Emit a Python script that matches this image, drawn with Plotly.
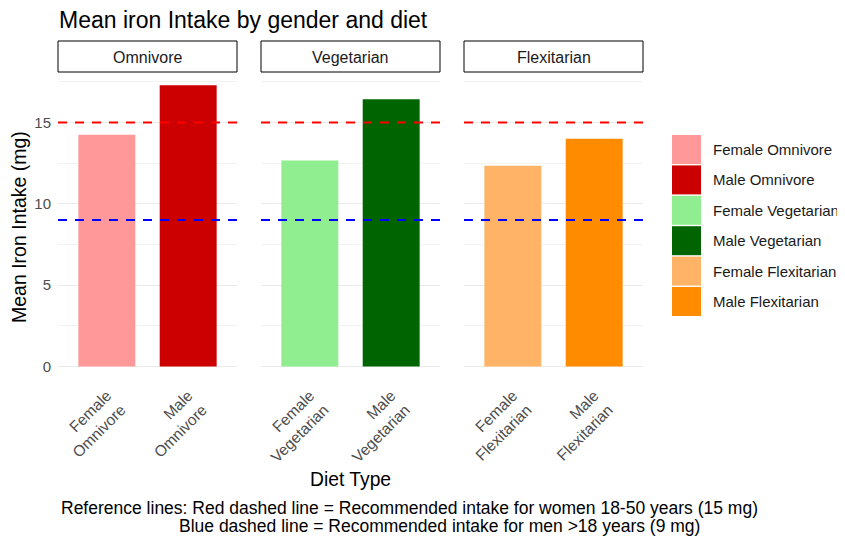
import plotly.graph_objects as go

# ---- data ----
diets = ["Omnivore", "Vegetarian", "Flexitarian"]
groups = ["Female Omnivore", "Male Omnivore", "Female Vegetarian",
          "Male Vegetarian", "Female Flexitarian", "Male Flexitarian"]
group_diet = ["Omnivore", "Omnivore", "Vegetarian", "Vegetarian", "Flexitarian", "Flexitarian"]
tick_labels = ["Female<br>Omnivore", "Male<br>Omnivore", "Female<br>Vegetarian",
               "Male<br>Vegetarian", "Female<br>Flexitarian", "Male<br>Flexitarian"]
mean_iron = [14.24, 17.29, 12.66, 16.43, 12.34, 14.0]
colors = ["#FF9999", "#CC0000", "#90EE90", "#006400", "#FFB366", "#FF8C00"]
y_ticks = [0, 5, 10, 15]
ref_women = 15
ref_men = 9
title_text = "Mean iron Intake by gender and diet"
x_title = "Diet Type"
y_title = "Mean Iron Intake (mg)"
caption_line1 = "Reference lines: Red dashed line = Recommended intake for women 18-50 years (15 mg)"
caption_line2 = "Blue dashed line = Recommended intake for men >18 years (9 mg)"

# ---- layout helpers (page pixels -> paper); page body has an 8px margin ----
PAGE_W, PAGE_H = 845, 537
OFF = 8
W, H = PAGE_W - OFF, PAGE_H - OFF
FONT = "Liberation Sans, Arial, sans-serif"


def px(x):
    return (x - OFF) / W


def py(y):
    return 1 - (y - OFF) / H


panel_px = [(58, 237), (261, 440), (464, 643)]
panel_top, panel_bot = 72, 380.6
y_range = [-0.865, 18.1]

fig = go.Figure()
layout = dict(
    width=W, height=H, autosize=False,
    margin=dict(l=0, r=0, t=0, b=0, pad=0, autoexpand=False),
    paper_bgcolor="white", plot_bgcolor="white",
    showlegend=False,
    font=dict(family=FONT, color="#1a1a1a"),
)

shapes = []
annotations = []

for i, diet in enumerate(diets):
    sfx = "" if i == 0 else str(i + 1)
    idx = [k for k, d in enumerate(group_diet) if d == diet]
    fig.add_trace(go.Bar(
        x=[groups[k] for k in idx],
        y=[mean_iron[k] for k in idx],
        marker=dict(color=[colors[k] for k in idx], line=dict(width=0)),
        width=0.7,
        xaxis="x" + sfx, yaxis="y" + sfx,
        name=diet,
    ))
    x0p, x1p = panel_px[i]
    layout["xaxis" + sfx] = dict(
        domain=[px(x0p), px(x1p)], anchor="y" + sfx,
        type="category", range=[-0.6, 1.6], automargin=False,
        tickmode="array", tickvals=[groups[k] for k in idx],
        ticktext=[tick_labels[k] for k in idx],
        tickangle=-45, tickfont=dict(size=15.5, color="#4d4d4d", family=FONT),
        ticklabelstandoff=2,
        showgrid=False, zeroline=False, showline=False, ticks="",
        fixedrange=True,
    )
    layout["yaxis" + sfx] = dict(
        domain=[py(panel_bot), py(panel_top)], anchor="x" + sfx,
        range=y_range, tickmode="array", tickvals=y_ticks, automargin=False,
        showticklabels=(i == 0),
        tickfont=dict(size=15, color="#4d4d4d", family=FONT),
        ticklabelstandoff=6,
        showgrid=True, gridcolor="#EBEBEB", gridwidth=1.1,
        minor=dict(tickmode="array", tickvals=[2.5, 7.5, 12.5, 17.5],
                   showgrid=True, gridcolor="#F2F2F2", gridwidth=0.6),
        zeroline=False, showline=False, ticks="",
        fixedrange=True,
    )
    shapes.append(dict(type="line", xref="x" + sfx + " domain", yref="y" + sfx,
                       x0=0, x1=1, y0=ref_women, y1=ref_women,
                       line=dict(color="red", width=2, dash="9px,8px"), layer="above"))
    shapes.append(dict(type="line", xref="x" + sfx + " domain", yref="y" + sfx,
                       x0=0, x1=1, y0=ref_men, y1=ref_men,
                       line=dict(color="blue", width=2, dash="9px,8px"), layer="above"))
    shapes.append(dict(type="rect", xref="x" + sfx + " domain", yref="paper",
                       x0=0, x1=1, y0=py(72), y1=py(41),
                       line=dict(color="black", width=1), fillcolor="white"))
    annotations.append(dict(xref="x" + sfx + " domain", yref="paper",
                            x=0.5, y=py(57), text=diet, showarrow=False,
                            xanchor="center", yanchor="middle",
                            font=dict(size=16, color="#1a1a1a", family=FONT)))

annotations.append(dict(xref="paper", yref="paper", x=px(57), y=py(20),
                        text=title_text, showarrow=False,
                        xanchor="left", yanchor="middle",
                        font=dict(size=23, color="black", family=FONT)))
annotations.append(dict(xref="paper", yref="paper", x=px(19), y=py(227),
                        text=y_title, showarrow=False, textangle=-90,
                        xanchor="center", yanchor="middle",
                        font=dict(size=19.5, color="black", family=FONT)))
annotations.append(dict(xref="paper", yref="paper", x=px(350.5), y=py(479),
                        text=x_title, showarrow=False,
                        xanchor="center", yanchor="middle",
                        font=dict(size=19.3, color="black", family=FONT)))
annotations.append(dict(xref="paper", yref="paper", x=px(409), y=py(508),
                        text=caption_line1, showarrow=False,
                        xanchor="center", yanchor="middle",
                        font=dict(size=17.5, color="black", family=FONT)))
annotations.append(dict(xref="paper", yref="paper", x=px(439.5), y=py(526),
                        text=caption_line2, showarrow=False,
                        xanchor="center", yanchor="middle",
                        font=dict(size=17.5, color="black", family=FONT)))

leg_x0, leg_x1 = 672, 701
leg_top, leg_step, leg_size = 135, 30.4, 29
for k, (g, c) in enumerate(zip(groups, colors)):
    y0 = leg_top + k * leg_step
    shapes.append(dict(type="rect", xref="paper", yref="paper",
                       x0=px(leg_x0), x1=px(leg_x1), y0=py(y0 + leg_size), y1=py(y0),
                       line=dict(width=0), fillcolor=c))
    annotations.append(dict(xref="paper", yref="paper", x=px(711), y=py(y0 + leg_size / 2),
                            text=g, showarrow=False, xanchor="left", yanchor="middle",
                            font=dict(size=15, color="#1a1a1a", family=FONT)))

layout["shapes"] = shapes
layout["annotations"] = annotations
fig.update_layout(**layout)
fig.write_html("out.html", config={"displayModeBar": False})
